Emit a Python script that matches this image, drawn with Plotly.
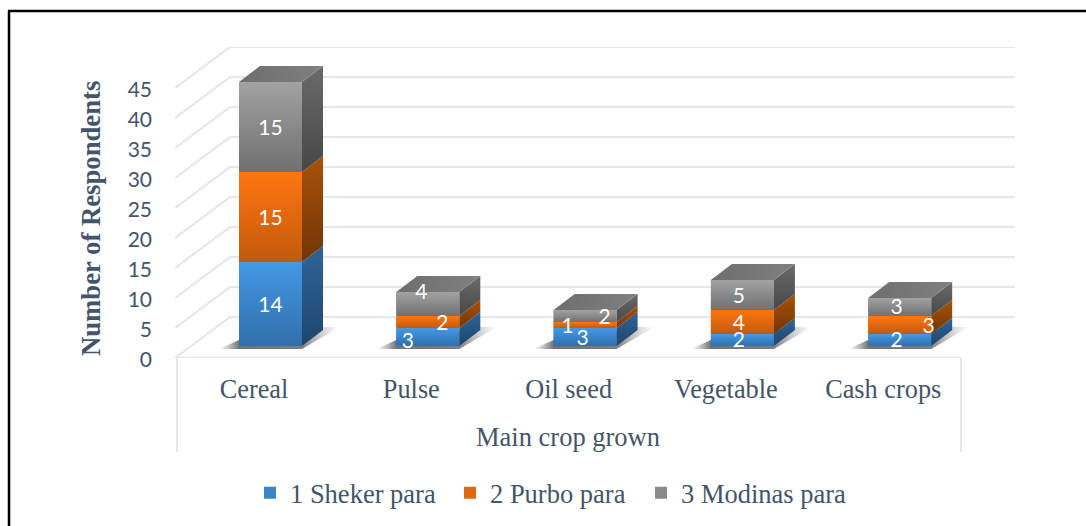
import plotly.graph_objects as go

CATEGORIES = ["Cereal", "Pulse", "Oil seed", "Vegetable", "Cash crops"]
SHEKER = [14, 3, 3, 2, 2]
PURBO = [15, 2, 1, 4, 3]
MODINAS = [15, 4, 2, 5, 3]
SERIES_NAMES = ["1 Sheker para", "2 Purbo para", "3 Modinas para"]
Y_TICKS = [0, 5, 10, 15, 20, 25, 30, 35, 40, 45]

W, H = 1086, 526
LEFT, RIGHT, TOP, BOTTOM = 175, 1015, 47, 358
CAT_PX, UNIT_PX = 157.3, 6.0
BAR_C0 = 270.5
BAR_W = 63
DEPTH_X, DEPTH_Y = 21, 16
WALL_X, WALL_Y = 55, 41
FLOOR_END = 961
BAR_FLOOR = 12 / UNIT_PX
TICK_SHIFT = -16.5
LABEL_DROP = 2

GRID = "#E4E7EE"
TEXT = "#44546A"
SERIF = "Liberation Serif"
SANS = "Lato"

FRONT = [("#4599E5", "#2F6FAB"), ("#FF7510", "#C25A0C"), ("#A2A2A2", "#707070")]
SIDE = [("#2F6497", "#1E466C"), ("#A85209", "#703505"), ("#6A6A6A", "#474747")]
TOP_FACE = ("#6E6E6E", "#808080")
MID = ["#3A84C8", "#E0680E", "#898989"]

# label nudges in pixels (right, up) from the middle of each segment's front face
NUDGE = [
    [(0, -1), (-20, -4), (-2.5, -1), (-3.5, 0), (-3, 0)],
    [(0, -1), (14.5, -1), (-17.5, -1), (-3.5, -1), (29, -1)],
    [(0, -1), (-6.5, 12), (19.5, -1), (-3.5, -1), (-3, 0)],
]

values = [SHEKER, PURBO, MODINAS]


def dx(px):
    return px / CAT_PX


def dy(px):
    return px / UNIT_PX


def grad(trace_x, trace_y, c_a, c_b, kind="vertical"):
    # c_a at the top / left, c_b at the bottom / right
    if kind == "vertical":
        scale = [[0, c_b], [1, c_a]]
    else:
        scale = [[0, c_a], [1, c_b]]
    return go.Scatter(
        x=trace_x, y=trace_y, mode="lines", line=dict(width=0), fill="toself",
        fillgradient=dict(type=kind, colorscale=scale), showlegend=False,
        hoverinfo="skip", cliponaxis=False,
    )


x_range = [(LEFT - BAR_C0) / CAT_PX, (RIGHT - BAR_C0) / CAT_PX]
x_left, x_right = x_range
x_floor_end = (FLOOR_END - BAR_C0) / CAT_PX

fig = go.Figure()

# stacked front faces from the library's bars (also feed the legends)
for s, name in enumerate(SERIES_NAMES):
    bases = [BAR_FLOOR + sum(values[k][i] for k in range(s)) for i in range(5)]
    fig.add_trace(go.Bar(
        x=list(range(5)), y=values[s], base=bases, width=BAR_W / CAT_PX,
        name=name, marker=dict(color=MID[s], line=dict(width=0)),
        legend="legend" if s == 0 else f"legend{s + 1}", hoverinfo="skip",
    ))

# back wall + side wall gridlines
gx, gy = [], []
for v in Y_TICKS:
    gx += [x_left, x_left + dx(WALL_X), x_right, None]
    gy += [v, v + dy(WALL_Y), v + dy(WALL_Y), None]
fig.add_trace(go.Scatter(x=gx, y=gy, mode="lines", line=dict(color=GRID, width=2.2),
                         showlegend=False, hoverinfo="skip", cliponaxis=False))
fig.add_trace(go.Scatter(x=[x_left, x_floor_end], y=[0, 0], mode="lines",
                         line=dict(color=GRID, width=2.5), showlegend=False,
                         hoverinfo="skip", cliponaxis=False))

hw = dx(BAR_W / 2)
ddx, ddy = dx(DEPTH_X), dy(DEPTH_Y)

# floor shadows
for i in range(5):
    l, r, b = i - hw, i + hw, BAR_FLOOR
    sx = [l - dx(20), l, r + dx(21), r + dx(38), r, l - dx(20)]
    sy = [b - dy(3), b + dy(6), b + dy(19), b + dy(19), b - dy(3), b - dy(3)]
    total = 20 + BAR_W + 38
    tr = go.Scatter(
        x=sx, y=sy, mode="lines", line=dict(width=0), fill="toself",
        fillgradient=dict(type="horizontal", colorscale=[
            [0, "rgba(120,120,120,0)"], [20 / total, "rgba(80,80,80,0.8)"],
            [(20 + BAR_W) / total, "rgba(70,70,70,0.7)"], [1, "rgba(150,150,150,0)"],
        ]),
        showlegend=False, hoverinfo="skip", cliponaxis=False,
    )
    fig.add_trace(tr)

# 3D faces
for i in range(5):
    l, r = i - hw, i + hw
    running = BAR_FLOOR
    for s in range(3):
        lo, hi = running, running + values[s][i]
        fig.add_trace(grad([r, r + ddx, r + ddx, r, r], [lo, lo + ddy, hi + ddy, hi, lo], *SIDE[s]))
        fig.add_trace(grad([l, r, r, l, l], [lo, lo, hi, hi, lo], *FRONT[s]))
        running = hi
    fig.add_trace(grad([l, r, r + ddx, l + ddx, l],
                       [running, running, running + ddy, running + ddy, running],
                       *TOP_FACE, kind="horizontal"))

# data labels
lx, ly, lt = [], [], []
for i in range(5):
    running = BAR_FLOOR
    for s in range(3):
        v = values[s][i]
        lx.append(i + dx(NUDGE[s][i][0]))
        ly.append(running + v / 2 + dy(NUDGE[s][i][1] - LABEL_DROP))
        lt.append(str(v))
        running += v
fig.add_trace(go.Scatter(x=lx, y=ly, text=lt, mode="text", textposition="middle center",
                         textfont=dict(family=SANS, size=21, color="white"),
                         showlegend=False, hoverinfo="skip", cliponaxis=False))

plot_w, plot_h = RIGHT - LEFT, BOTTOM - TOP


def px_x(px):
    return (px - LEFT) / plot_w


def px_y(py):
    return (BOTTOM - py) / plot_h


def vline(xp, y0, y1, color, width):
    return dict(type="line", xref="paper", yref="paper", x0=px_x(xp), x1=px_x(xp),
                y0=px_y(y0), y1=px_y(y1), line=dict(color=color, width=width))


shapes = [
    vline(177, 358, 452, GRID, 2),
    vline(FLOOR_END, 358, 452, GRID, 2),
    vline(9, 11, 530, "black", 2.5),
    dict(type="line", xref="paper", yref="paper", x0=px_x(8), x1=px_x(1090),
         y0=px_y(11), y1=px_y(11), line=dict(color="black", width=2.5)),
]

annotations = [
    dict(text="Number of Respondents", xref="paper", yref="paper", x=px_x(91), y=px_y(219),
         textangle=-90, showarrow=False, xanchor="center", yanchor="middle",
         font=dict(family=SERIF, size=26.7, color=TEXT, weight="bold")),
    dict(text="Main crop grown", xref="paper", yref="paper", x=px_x(568), y=px_y(437),
         showarrow=False, xanchor="center", yanchor="middle",
         font=dict(family=SERIF, size=26.5, color=TEXT)),
]


def legend_at(text_px):
    return dict(orientation="h", x=px_x(text_px - 40), xanchor="left", y=px_y(469),
                yanchor="top", bgcolor="rgba(0,0,0,0)",
                font=dict(family=SERIF, size=26.5, color=TEXT))


fig.update_layout(
    width=W, height=H, margin=dict(l=LEFT, r=W - RIGHT, t=TOP, b=H - BOTTOM, autoexpand=False),
    paper_bgcolor="white", plot_bgcolor="rgba(0,0,0,0)", barmode="overlay",
    showlegend=True, shapes=shapes, annotations=annotations,
    legend=legend_at(290), legend2=legend_at(490), legend3=legend_at(681),
    xaxis=dict(range=x_range, tickmode="array",
               tickvals=[i + TICK_SHIFT / CAT_PX for i in range(5)], ticktext=CATEGORIES,
               showgrid=False, zeroline=False, showline=False, ticks="",
               ticklabelstandoff=13, tickfont=dict(family=SERIF, size=26.3, color=TEXT)),
    yaxis=dict(range=[0, plot_h / UNIT_PX], tickmode="array", tickvals=Y_TICKS,
               showgrid=False, zeroline=False, showline=False, ticks="",
               ticklabelstandoff=22, ticklabelshift=2,
               tickfont=dict(family=SANS, size=21, color=TEXT)),
)

fig.write_html("out.html", config={"displayModeBar": False},
               post_script="document.body.style.margin='0';document.body.style.overflow='hidden';")
